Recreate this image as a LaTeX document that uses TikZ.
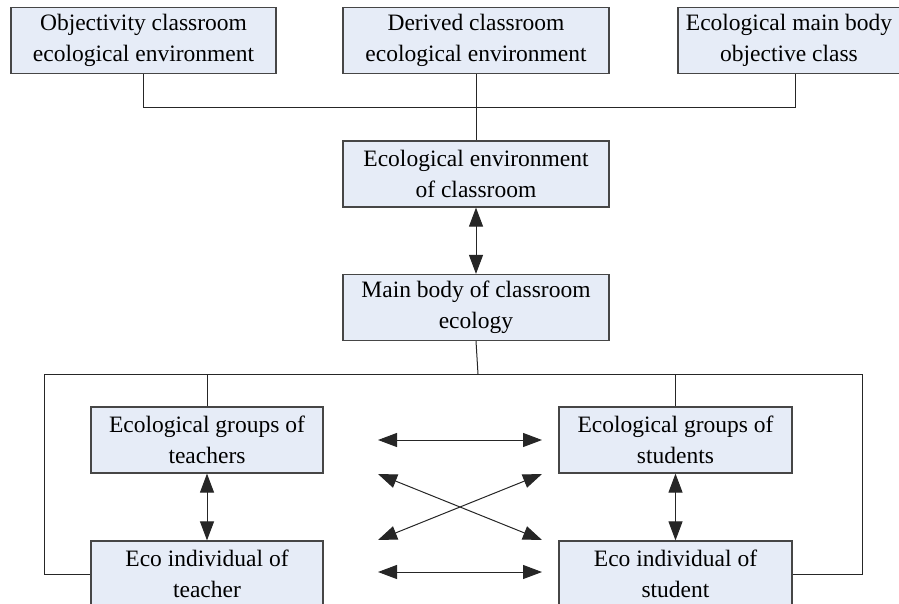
\documentclass[tikz,border=0pt]{standalone}
\usepackage{fontspec}
\setmainfont{Liberation Serif}
\usetikzlibrary{arrows.meta}
\definecolor{boxfill}{RGB}{230,236,247}
\definecolor{boxline}{RGB}{70,70,70}
\tikzset{
  ecobox/.style={draw=boxline, line width=1.2pt, fill=boxfill, align=center,
    inner sep=0pt, minimum height=66pt, font=\fontsize{23.5}{31}\selectfont},
  link/.style={line width=1pt, draw=black!85},
  dbl/.style={link, {Triangle[length=19pt,width=14pt]}-{Triangle[length=19pt,width=14pt]}}
}
\begin{document}
\begin{tikzpicture}[x=1pt,y=-1pt]
  \clip (0,0) rectangle (899,604);
  % top row
  \node[ecobox, minimum width=265pt] (obj) at (143.5,40.5) {Objectivity classroom\\ecological environment};
  \node[ecobox, minimum width=266pt] (der) at (476,40.5) {Derived classroom\\ecological environment};
  \node[ecobox, minimum width=222pt] (eco) at (789,40.5) {Ecological main body\\objective class};
  % middle
  \node[ecobox, minimum width=266pt] (envc) at (476,174) {Ecological environment\\of classroom};
  \node[ecobox, minimum width=266pt] (mainb) at (476,307.5) {Main body of classroom\\ecology};
  % bottom
  \node[ecobox, minimum width=232pt] (tgrp) at (207,440) {Ecological groups of\\teachers};
  \node[ecobox, minimum width=233pt] (sgrp) at (675.5,440) {Ecological groups of\\students};
  \node[ecobox, minimum width=232pt] (tind) at (207,574) {Eco individual of\\teacher};
  \node[ecobox, minimum width=233pt] (sind) at (675.5,574) {Eco individual of\\student};

  \coordinate (bl) at (44,374);
  \coordinate (br) at (862,374);
  \coordinate (la) at (378,440);
  \coordinate (ra) at (542,440);
  \coordinate (lb) at (378,572);
  \coordinate (rb) at (542,572);
  \coordinate (lu) at (378,474);
  \coordinate (ld) at (378,540);
  \coordinate (ru) at (542,474);
  \coordinate (rd) at (542,540);

  \draw[link] (obj.south) -- ++(0,33) -| ([xshift=6pt]eco.south);
  \draw[link] (der.south) -- (envc.north);
  \draw[dbl] (envc.south) -- (mainb.north);
  \draw[link] (mainb.south) -- ([xshift=2pt]mainb.south |- bl);
  \draw[link] (bl) -- (br);
  \draw[link] (tgrp.north) -- (tgrp.north |- bl);
  \draw[link] (sgrp.north) -- (sgrp.north |- br);
  \draw[link] (bl) |- (tind.west);
  \draw[link] (br) |- (sind.east);

  \draw[dbl] (tgrp.south) -- (tind.north);
  \draw[dbl] (sgrp.south) -- (sind.north);
  \draw[dbl] (la) -- (ra);
  \draw[dbl] (lb) -- (rb);
  \draw[dbl] (lu) -- (rd);
  \draw[dbl] (ld) -- (ru);
\end{tikzpicture}
\end{document}
